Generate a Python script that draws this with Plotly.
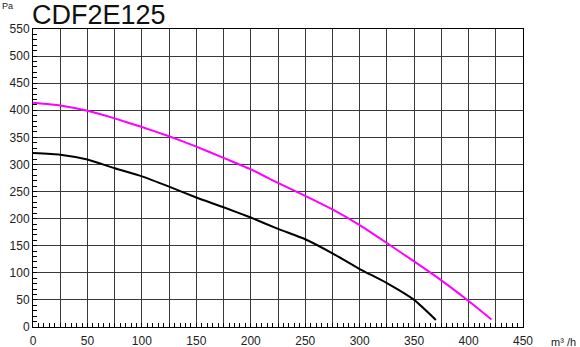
import plotly.graph_objects as go

# Data
magenta_x = [0, 25, 50, 75, 100, 125, 150, 175, 200, 225, 250, 275, 300, 325, 350, 375, 400, 421]
magenta_y = [414, 409, 399, 385, 369, 352, 333, 312, 291, 266, 242, 217, 188, 155, 121, 86, 48, 14]

black_x = [0, 25, 50, 75, 100, 125, 150, 175, 200, 225, 250, 275, 300, 325, 350, 370]
black_y = [321, 318, 309, 293, 278, 259, 239, 221, 202, 181, 162, 136, 107, 81, 50, 13]

x_grid_vals = list(range(0, 451, 25))
x_tick_text = [str(v) if v % 50 == 0 else "" for v in x_grid_vals]
y_tick_vals = list(range(0, 551, 50))

FONT = "Liberation Sans, Arial, sans-serif"
GRID = "#3a3a3a"

fig = go.Figure()
fig.add_trace(go.Scatter(x=magenta_x, y=magenta_y, mode="lines",
                         line=dict(color="#ff00ff", width=2, shape="spline", smoothing=0.5),
                         showlegend=False, hoverinfo="skip"))
fig.add_trace(go.Scatter(x=black_x, y=black_y, mode="lines",
                         line=dict(color="#000000", width=2, shape="spline", smoothing=0.5),
                         showlegend=False, hoverinfo="skip"))

fig.update_layout(
    width=580, height=347,
    margin=dict(l=33, r=57, t=29, b=20, autoexpand=False),
    paper_bgcolor="white", plot_bgcolor="white",
    font=dict(family=FONT, size=12, color="#222"),
    xaxis=dict(range=[0, 450], tickmode="array", tickvals=x_grid_vals, ticktext=x_tick_text,
               showgrid=True, gridcolor=GRID, gridwidth=1,
               showline=True, linecolor="#000", linewidth=1, mirror=True,
               ticks="inside", ticklen=4, tickcolor="#000",
               minor=dict(dtick=5, ticks="inside", ticklen=4, tickcolor="#000", showgrid=False),
               zeroline=False, tickfont=dict(size=12), fixedrange=True,
               automargin=False, ticklabelstandoff=3),
    yaxis=dict(range=[0, 550], tickmode="array", tickvals=y_tick_vals,
               showgrid=True, gridcolor=GRID, gridwidth=1,
               showline=True, linecolor="#000", linewidth=1, mirror=True,
               ticks="inside", ticklen=4, tickcolor="#000",
               minor=dict(dtick=10, ticks="inside", ticklen=4, tickcolor="#000", showgrid=False),
               zeroline=False, tickfont=dict(size=12), fixedrange=True,
               automargin=False),
    annotations=[
        dict(text="CDF2E125", xref="paper", yref="paper", x=0, y=1, xanchor="left", yanchor="bottom",
             xshift=-3, yshift=-3, showarrow=False, font=dict(size=27, color="#111", family=FONT)),
        dict(text="Pa", xref="paper", yref="paper", x=0, y=1, xanchor="left", yanchor="bottom",
             xshift=-33, yshift=16, showarrow=False, font=dict(size=9, color="#222", family=FONT)),
        dict(text="m³ /h", xref="paper", yref="paper", x=1, y=0, xanchor="left", yanchor="top",
             xshift=26, yshift=-7, showarrow=False, font=dict(size=11, color="#222", family=FONT)),
    ],
)

fig.write_html("out.html")
